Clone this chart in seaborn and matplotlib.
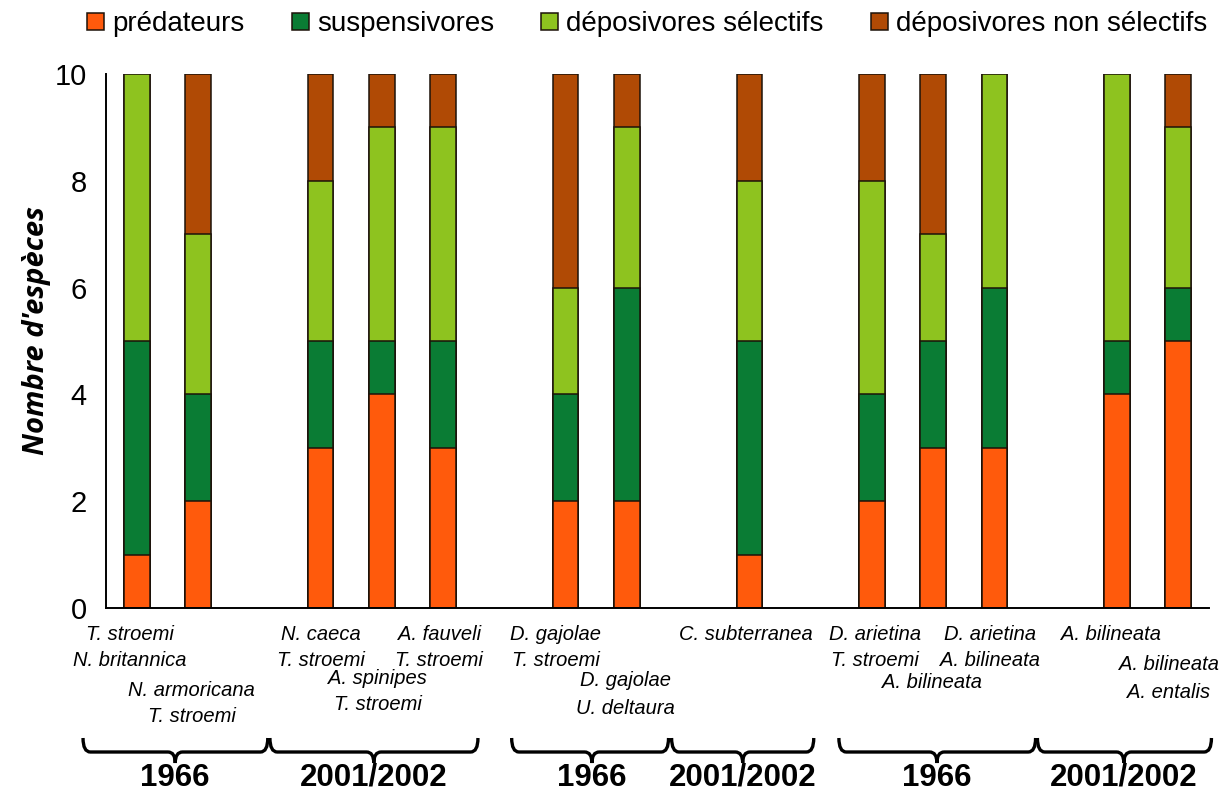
import numpy as np
import pandas as pd
import matplotlib
matplotlib.use("Agg")
import matplotlib.pyplot as plt
import seaborn as sns
from matplotlib.patches import Patch, PathPatch
from matplotlib.path import Path
from matplotlib.transforms import blended_transform_factory

# ---- data -------------------------------------------------------------
categories = ["prédateurs", "suspensivores", "déposivores sélectifs",
              "déposivores non sélectifs"]
colors = ["#FF5A0C", "#0A7C34", "#8EC31F", "#B04A05"]

species = [
    ["T. stroemi", "N. britannica"],
    ["N. armoricana", "T. stroemi"],
    ["N. caeca", "T. stroemi"],
    ["A. spinipes", "T. stroemi"],
    ["A. fauveli", "T. stroemi"],
    ["D. gajolae", "T. stroemi"],
    ["D. gajolae", "U. deltaura"],
    ["C. subterranea"],
    ["D. arietina", "T. stroemi"],
    ["A. bilineata"],
    ["D. arietina", "A. bilineata"],
    ["A. bilineata"],
    ["A. bilineata", "A. entalis"],
]
predateurs = [1, 2, 3, 4, 3, 2, 2, 1, 2, 3, 3, 4, 5]
suspensivores = [4, 2, 2, 1, 2, 2, 4, 4, 2, 2, 3, 1, 1]
deposivores_selectifs = [5, 3, 3, 4, 4, 2, 3, 3, 4, 2, 4, 5, 3]
deposivores_non_selectifs = [0, 3, 2, 1, 1, 4, 1, 2, 2, 3, 0, 0, 1]

periods = ["1966", "2001/2002", "1966", "2001/2002", "1966", "2001/2002"]

# ---- layout -----------------------------------------------------------
slot = [0, 1, 3, 4, 5, 7, 8, 10, 12, 13, 14, 16, 17]
# label placement: (x shift in slots, centre of first line in px from top)
label_pos = [(-0.11, 634), (-0.10, 690), (0.0, 634), (-0.07, 678),
             (-0.06, 634), (-0.16, 634), (-0.03, 681), (-0.06, 634),
             (0.05, 634), (-0.02, 682), (-0.07, 634), (-0.10, 634),
             (-0.16, 665)]
# braces: (left, right, tip) in slot units
braces = [(-0.875, 2.14, 0.63), (2.175, 5.57, 3.87), (6.12, 8.68, 7.43),
          (8.73, 11.05, 9.89), (11.46, 14.67, 13.06), (14.70, 17.54, 16.11)]

W, H = 1232, 796
fig = plt.figure(figsize=(W / 100, H / 100), dpi=100)
sns.set_style("white")
plt.rcParams["font.family"] = ["Liberation Sans", "DejaVu Sans"]
for key in ["text.color", "axes.labelcolor", "xtick.color", "ytick.color",
            "axes.edgecolor"]:
    plt.rcParams[key] = "black"

ax = fig.add_axes([106 / W, 1 - 608 / H, (1209 - 106) / W, (608 - 74) / H])

df = pd.DataFrame({
    "slot": slot,
    "pred": predateurs,
    "susp": suspensivores,
    "sel": deposivores_selectifs,
    "nonsel": deposivores_non_selectifs,
})
layers = ["pred", "susp", "sel", "nonsel"]
cum = df[layers].cumsum(axis=1)

# draw cumulative totals from the top layer downwards so each
# segment shows the share of its own feeding group
for layer, col in reversed(list(zip(layers, colors))):
    sns.barplot(x=df["slot"], y=cum[layer], native_scale=True, width=0.42,
                color=col, saturation=1, edgecolor="#1c1209", linewidth=1.1,
                ax=ax, errorbar=None)

ax.set_xlim(-0.5, 17.5)
ax.set_ylim(0, 10)
ax.set_xticks(np.arange(-0.5, 18, 1.0))
ax.set_xticklabels([])
ax.set_yticks([0, 2, 4, 6, 8, 10])
ax.set_yticklabels(["0", "2", "4", "6", "8", "10"], fontsize=21,
                   color="black")
ax.tick_params(axis="x", direction="out", length=8, width=1.4, color="black")
ax.tick_params(axis="y", direction="out", length=8, width=1.4, color="black",
               pad=6)
ax.set_xlabel("")
for side in ["top", "right"]:
    ax.spines[side].set_visible(False)
for side in ["left", "bottom"]:
    ax.spines[side].set_linewidth(1.4)
    ax.spines[side].set_color("black")

ax.set_ylabel("Nombre d'espèces", fontsize=21, fontweight="bold",
              fontstyle="italic", family=["Open Sans", "DejaVu Sans"],
              color="black")
ax.yaxis.set_label_coords(-0.05, 0.52)

# species names under each bar
trans = blended_transform_factory(ax.transData, fig.transFigure)
line_gap = 27
for s, names, (dx, y0) in zip(slot, species, label_pos):
    for k, name in enumerate(names):
        ax.text(s + dx, 1 - (y0 + k * line_gap) / H, name, transform=trans,
                ha="center", va="center", fontsize=14.5, fontstyle="italic",
                color="black", clip_on=False)

# curly braces grouping the sampling periods
y_top, y_line, y_tip = 1 - 738 / H, 1 - 752 / H, 1 - 763 / H
r = 0.12
for (x0, x1, xt), period in zip(braces, periods):
    verts = [
        (x0, y_top), (x0, y_line), (x0 + r, y_line),
        (xt - r, y_line), (xt, y_line), (xt, y_tip),
        (xt, y_line), (xt + r, y_line),
        (x1 - r, y_line), (x1, y_line), (x1, y_top),
    ]
    codes = [Path.MOVETO, Path.CURVE3, Path.CURVE3,
             Path.LINETO, Path.CURVE3, Path.CURVE3,
             Path.CURVE3, Path.CURVE3,
             Path.LINETO, Path.CURVE3, Path.CURVE3]
    ax.add_patch(PathPatch(Path(verts, codes), transform=trans, fill=False,
                           lw=2.4, edgecolor="black", clip_on=False))
    ax.text(xt, 1 - 778 / H, period, transform=trans, ha="center",
            va="center", fontsize=22.5, fontweight="bold", color="black")

handles = [Patch(facecolor=c, edgecolor="#1c1209", linewidth=1.1)
           for c in colors]
fig.legend(handles, categories, loc="upper left", bbox_to_anchor=(0.062, 1.0),
           ncol=4, frameon=False, fontsize=20, handlelength=0.6,
           handleheight=0.6, handletextpad=0.3, columnspacing=1.7,
           borderaxespad=0.2, borderpad=0.2, labelcolor="black")

fig.savefig("out.png", dpi=100)
